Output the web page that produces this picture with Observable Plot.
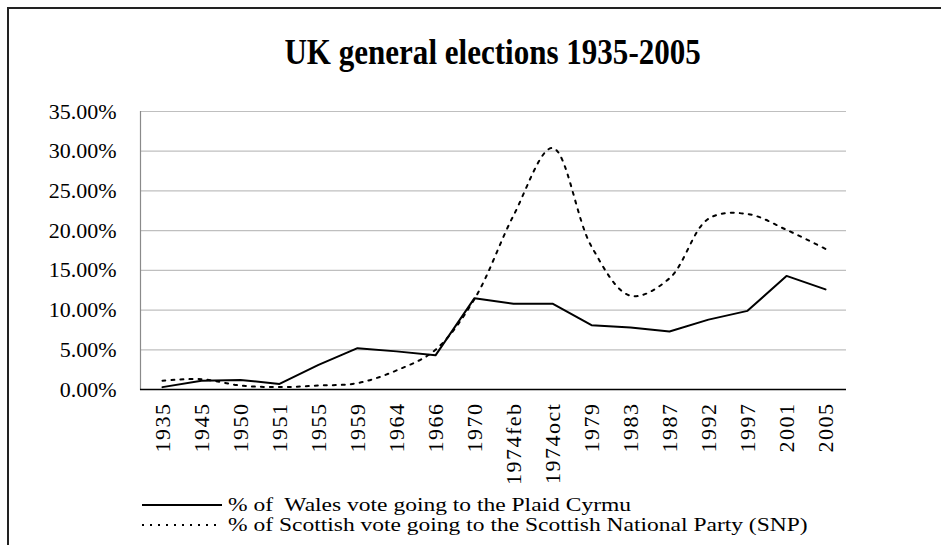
<!DOCTYPE html>
<html>
<head>
<meta charset="utf-8">
<script src="https://cdn.jsdelivr.net/npm/d3@7"></script>
<script src="https://cdn.jsdelivr.net/npm/@observablehq/plot@0.6"></script>
<style>
  html, body { margin: 0; padding: 0; background: #fff; overflow: hidden; }
  body { width: 941px; height: 545px; position: relative; font-family: "Liberation Serif", "Times New Roman", serif; }
  #frame { position: absolute; left: 7px; top: 7px; width: 1200px; height: 800px; border-left: 2px solid #222; border-top: 2px solid #222; }
  #title { position: absolute; left: 0; width: 986px; top: 34px; text-align: center; font-size: 32px; line-height: 36px; font-weight: bold; color: #000; }
  #title span { display: inline-block; transform: scale(0.97, 1.12); }
  #chart { position: absolute; left: 0; top: 0; }
  #chart svg { font-family: "Liberation Serif", "Times New Roman", serif; }
  g[aria-label="x-axis tick label"] text { letter-spacing: 1.5px; }
  #legend { position: absolute; left: 142px; top: 495px; font-size: 23.5px; color: #000; }
  .row { display: flex; align-items: center; height: 20px; white-space: pre; }
  .row svg { margin-right: 6px; }
  .row span { display: inline-block; line-height: 20px; transform: scaleY(0.78); transform-origin: 50% 50%; }
</style>
</head>
<body>
<div id="frame"></div>
<div id="title"><span>UK general elections 1935-2005</span></div>
<div id="chart"></div>
<div id="legend"></div>
<script>
const elections = ["1935","1945","1950","1951","1955","1959","1964","1966","1970","1974feb","1974oct","1979","1983","1987","1992","1997","2001","2005"];
const walesPlaid = [0.003,0.011,0.012,0.007,0.031,0.052,0.048,0.043,0.115,0.108,0.108,0.081,0.078,0.073,0.088,0.099,0.143,0.126];
const scotlandSNP = [0.011,0.013,0.005,0.003,0.005,0.008,0.024,0.050,0.114,0.219,0.304,0.180,0.118,0.140,0.215,0.221,0.201,0.177];
const yTicks = [0,0.05,0.10,0.15,0.20,0.25,0.30,0.35];
const seriesNames = ["% of  Wales vote going to the Plaid Cyrmu", "% of Scottish vote going to the Scottish National Party (SNP)"];

const wales = elections.map((e, i) => ({election: e, value: walesPlaid[i]}));
const snp = elections.map((e, i) => ({election: e, value: scotlandSNP[i]}));

const chart = Plot.plot({
  width: 941,
  height: 490,
  marginLeft: 140,
  marginRight: 95,
  marginTop: 111,
  marginBottom: 101,
  style: {fontSize: "22px", fontFamily: "Liberation Serif, Times New Roman, serif", color: "#000", background: "transparent"},
  x: {type: "point", domain: elections, padding: 0.5, label: null},
  y: {domain: [0, 0.35], label: null},
  marks: [
    Plot.ruleY(yTicks, {stroke: "#bfbfbf", strokeWidth: 1.2}),
    Plot.frame({anchor: "left", stroke: "#8a8a8a", strokeWidth: 1.2}),
    Plot.axisY({ticks: yTicks, tickSize: 0, tickPadding: 24, tickFormat: d => (d * 100).toFixed(2) + "%", label: null, fill: "#000"}),
    Plot.axisX({tickSize: 0, tickPadding: 13, tickRotate: -90, label: null, fill: "#000"}),
    Plot.line(snp, {x: "election", y: "value", stroke: "#000", strokeWidth: 2, strokeDasharray: "3,6", curve: "catmull-rom"}),
    Plot.line(wales, {x: "election", y: "value", stroke: "#000", strokeWidth: 2}),
    Plot.ruleY([0], {stroke: "#000", strokeWidth: 1.5})
  ]
});
document.getElementById("chart").appendChild(chart);

const legend = document.getElementById("legend");
seriesNames.forEach((name, i) => {
  const row = document.createElement("div");
  row.className = "row";
  row.innerHTML = `<svg width="80" height="6"><line x1="0" x2="80" y1="3" y2="3" stroke="#000" stroke-width="2" ${i === 1 ? 'stroke-dasharray="2,6"' : ''}/></svg><span>${name}</span>`;
  legend.appendChild(row);
});
</script>
</body>
</html>
